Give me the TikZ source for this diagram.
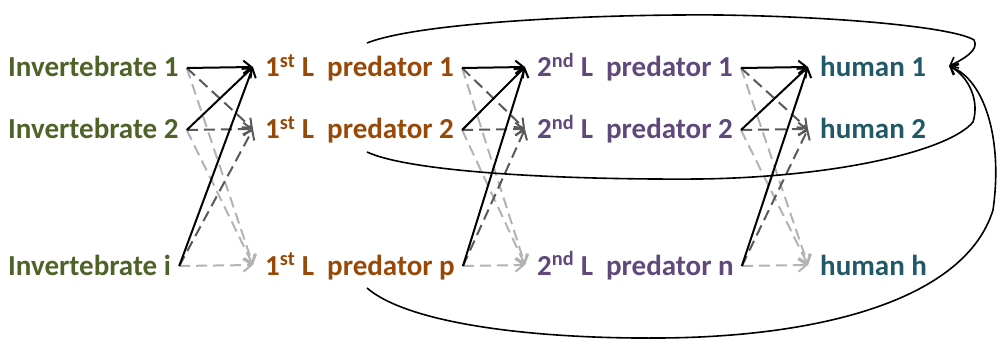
\documentclass[tikz,border=0pt]{standalone}
\usepackage{fontspec}
\setmainfont{Carlito}
\usetikzlibrary{arrows.meta,calc}
\definecolor{invc}{HTML}{4F6228}
\definecolor{predA}{HTML}{984807}
\definecolor{predB}{HTML}{5F497A}
\definecolor{humc}{HTML}{215968}
\definecolor{dkg}{HTML}{595959}
\definecolor{ltg}{HTML}{B3B3B3}
\begin{document}
\begin{tikzpicture}[x=1pt,y=-1pt,
  lbl/.style={anchor=base west, inner sep=0pt, font=\fontsize{29}{33}\selectfont\bfseries},
  arr/.style={line width=2pt, -{Straight Barb[length=8pt,width=13pt]}},
  blk/.style={arr, draw=black},
  dk/.style={arr, draw=dkg, dash pattern=on 11pt off 6pt},
  lt/.style={arr, draw=ltg, dash pattern=on 11pt off 6pt},
  big/.style={line width=1.6pt, draw=black, -{Straight Barb[length=7pt,width=12pt]}}]
\useasboundingbox (0,0) rectangle (1000,347);
% labels
\node[lbl, text=invc] (i1) at (8,77) {Invertebrate 1};
\node[lbl, text=invc] (i2) at (8,139) {Invertebrate 2};
\node[lbl, text=invc] (i3) at (8,275) {Invertebrate i};
\node[lbl, text=predA] (a1) at (265,77) {1\textsuperscript{st} L\ \ predator 1};
\node[lbl, text=predA] (a2) at (265,139) {1\textsuperscript{st} L\ \ predator 2};
\node[lbl, text=predA] (a3) at (265,275) {1\textsuperscript{st} L\ \ predator p};
\node[lbl, text=predB] (b1) at (537,77) {2\textsuperscript{nd} L\ \ predator 1};
\node[lbl, text=predB] (b2) at (537,139) {2\textsuperscript{nd} L\ \ predator 2};
\node[lbl, text=predB] (b3) at (537,275) {2\textsuperscript{nd} L\ \ predator n};
\node[lbl, text=humc] (h1) at (820,77) {human 1};
\node[lbl, text=humc] (h2) at (820,139) {human 2};
\node[lbl, text=humc] (h3) at (820,275) {human h};
% connector end points
\foreach \n in {i1,i2,i3,a1,a2,a3,b1,b2,b3} {
  \coordinate (\n o) at ([xshift=8pt,yshift=9pt]\n.base east);
}
\foreach \n in {a1,a2,a3,b1,b2,b3,h1,h2,h3} {
  \coordinate (\n i) at ([xshift=-12pt,yshift=10pt]\n.base west);
}
% arrows between layers
\foreach \s/\t in {i/a,a/b,b/h} {
  \foreach \k in {1,2,3} {
    \draw[lt] (\s\k o) -- (\t3i);
  }
  \foreach \k in {1,2,3} {
    \draw[dk] (\s\k o) -- (\t2i);
  }
  \foreach \k in {1,2,3} {
    \draw[blk] (\s\k o) -- (\t1i);
  }
}
% large curves from first-level predators to human 1
\coordinate (c1) at (367,43);
\coordinate (c2) at (367,152);
\coordinate (c3) at (367,288);
\coordinate (tip) at (949,66);
\draw[big] (c1) .. controls (420,22) and (600,14) .. (720,15)
  .. controls (850,17) and (955,28) .. (974,40)
  .. controls (980,50) and (962,60) .. (tip);
\draw[big] (c2) .. controls (410,172) and (560,180) .. (700,179)
  .. controls (840,177) and (950,150) .. (973,122)
  .. controls (980,100) and (968,76) .. (tip);
\draw[big] (c3) .. controls (410,325) and (540,339) .. (660,338)
  .. controls (820,337) and (965,300) .. (993,210)
  .. controls (1003,140) and (985,80) .. (tip);
\end{tikzpicture}
\end{document}
